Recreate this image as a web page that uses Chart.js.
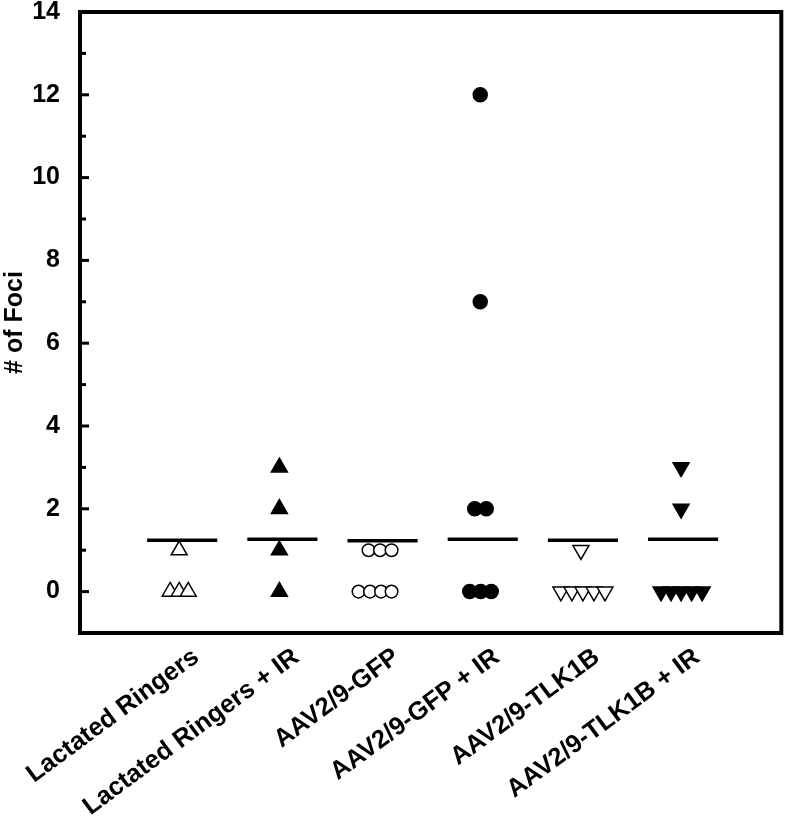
<!DOCTYPE html>
<html>
<head>
<meta charset="utf-8">
<script src="https://cdn.jsdelivr.net/npm/chart.js@4.4.7/dist/chart.umd.min.js"></script>
<style>
  html, body { margin: 0; padding: 0; background: #fff; }
</style>
</head>
<body>
<canvas id="chart" width="792" height="821"></canvas>
<script>
const groups = ["Lactated Ringers", "Lactated Ringers + IR", "AAV2/9-GFP", "AAV2/9-GFP + IR", "AAV2/9-TLK1B", "AAV2/9-TLK1B + IR"]

// foci per animal; jitter is the sideways shift of each marker (category units) as plotted
const lrFoci = [1, 0, 0, 0]
const lrJitter = [-0.03, -0.12, -0.03, 0.06]
const lrIrFoci = [3, 2, 1, 0]
const lrIrJitter = [-0.03, -0.03, -0.03, -0.03]
const gfpFoci = [1, 1, 1, 0, 0, 0, 0]
const gfpJitter = [-0.14, -0.025, 0.09, -0.24, -0.125, -0.015, 0.09]
const gfpIrFoci = [12, 7, 2, 2, 0, 0, 0]
const gfpIrJitter = [-0.025, -0.025, -0.08, 0.035, -0.13, -0.02, 0.085]
const tlkFoci = [1, 0, 0, 0, 0, 0]
const tlkJitter = [-0.02, -0.22, -0.11, 0, 0.11, 0.22]
const tlkIrFoci = [3, 2, 0, 0, 0, 0, 0]
const tlkIrJitter = [-0.02, -0.02, -0.22, -0.12, -0.02, 0.085, 0.19]

// group means drawn as horizontal bars
const means = [1.24, 1.265, 1.23, 1.265, 1.24, 1.265]

const yTicks = [0, 2, 4, 6, 8, 10, 12, 14]
const yMinorTicks = [1, 3, 5, 7, 9, 11, 13]

const FONT = "'Liberation Sans', Arial, sans-serif"

function points(group, values, jitter) {
  return values.map((v, i) => ({ x: group + jitter[i], y: v }))
}

function markerSet(group, values, jitter, style, filled, rotation) {
  let radius = 9.2
  if (style === "circle") radius = filled ? 7 : 6.3
  return {
    type: "scatter",
    data: points(group, values, jitter),
    pointStyle: style,
    rotation: rotation || 0,
    pointRadius: radius,
    pointBorderWidth: 1.5,
    pointBorderColor: "#000",
    pointBackgroundColor: filled ? "#000" : "#fff"
  }
}

const meanSets = means.map((m, i) => ({
  type: "scatter",
  showLine: true,
  data: [{ x: i + 1 - 0.35, y: m }, { x: i + 1 + 0.35, y: m }],
  borderColor: "#000",
  borderWidth: 3.5,
  pointRadius: 0
}))

const frameAndTicks = {
  id: "frameAndTicks",
  afterDatasetsDraw(chart) {
    const { ctx, chartArea: a, scales: { y } } = chart
    ctx.save()
    ctx.strokeStyle = "#000"
    ctx.lineWidth = 3
    yTicks.forEach(v => {
      const py = y.getPixelForValue(v)
      ctx.beginPath(); ctx.moveTo(a.left, py); ctx.lineTo(a.left + 9, py); ctx.stroke()
    })
    yMinorTicks.forEach(v => {
      const py = y.getPixelForValue(v)
      ctx.beginPath(); ctx.moveTo(a.left, py); ctx.lineTo(a.left + 6, py); ctx.stroke()
    })
    ctx.lineWidth = 4
    ctx.strokeRect(a.left, a.top, a.right - a.left, a.bottom - a.top)
    ctx.restore()
  }
}

new Chart(document.getElementById("chart"), {
  type: "scatter",
  data: {
    datasets: [
      ...meanSets,
      markerSet(1, lrFoci, lrJitter, "triangle", false),
      markerSet(2, lrIrFoci, lrIrJitter, "triangle", true),
      markerSet(3, gfpFoci, gfpJitter, "circle", false),
      markerSet(4, gfpIrFoci, gfpIrJitter, "circle", true),
      markerSet(5, tlkFoci, tlkJitter, "triangle", false, 180),
      markerSet(6, tlkIrFoci, tlkIrJitter, "triangle", true, 180)
    ]
  },
  options: {
    responsive: false,
    animation: false,
    devicePixelRatio: 1,
    layout: { padding: { top: 12, right: 4, left: 0, bottom: 0 } },
    plugins: { legend: { display: false }, tooltip: { enabled: false } },
    scales: {
      x: {
        type: "linear",
        min: -0.02,
        max: 6.98,
        afterBuildTicks: (scale) => { scale.ticks = groups.map((g, i) => ({ value: i + 1 })) },
        afterFit: (scale) => {
          scale.height = 188
          scale.paddingLeft = 0
          scale.paddingRight = 0
        },
        grid: { display: false, drawTicks: false },
        border: { display: false },
        ticks: {
          autoSkip: false,
          minRotation: 36.5,
          maxRotation: 36.5,
          padding: 9,
          labelOffset: 14,
          color: "#000",
          font: { family: FONT, size: 25.5, weight: "bold" },
          callback: (value) => groups[Math.round(value) - 1] || ""
        }
      },
      y: {
        min: -1,
        max: 14,
        afterBuildTicks: (scale) => { scale.ticks = yTicks.map(v => ({ value: v })) },
        afterFit: (scale) => {
          scale.width = 80
          scale.paddingTop = 0
          scale.paddingBottom = 0
        },
        grid: { display: false, drawTicks: false },
        border: { display: false },
        ticks: {
          padding: 20,
          color: "#000",
          font: { family: FONT, size: 25, weight: "bold" }
        },
        title: {
          display: true,
          text: "# of Foci",
          color: "#000",
          padding: 0,
          font: { family: FONT, size: 25, weight: "bold" }
        }
      }
    }
  },
  plugins: [frameAndTicks]
})
</script>
</body>
</html>
